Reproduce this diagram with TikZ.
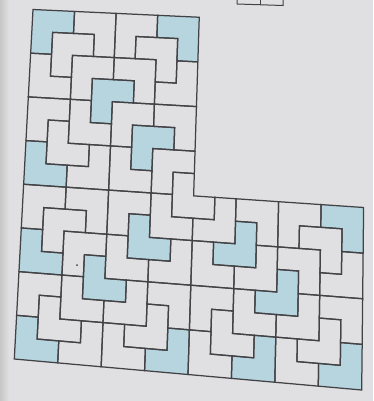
\documentclass[tikz,border=0pt]{standalone}
\usepackage{tikz}
\definecolor{paper}{RGB}{224,224,226}
\definecolor{ink}{RGB}{66,66,70}
\definecolor{pencil}{RGB}{182,213,222}
% bilinear map of the 16x16 small-cell grid onto the photo (pt = px)
\newcommand\G[2]{({33+20.781*(#1)-1.169*(#2)+0.0582*(#1)*(#2)},{-9.5-0.969*(#1)-21.844*(#2)-0.0605*(#1)*(#2)})}
% L-trominoes in a 2x2 block with top-left cell (#2,#3); name tells the missing cell
\newcommand\PBR[3]{\path[#1] \G{#2}{#3} -- \G{#2+2}{#3} -- \G{#2+2}{#3+1} -- \G{#2+1}{#3+1} -- \G{#2+1}{#3+2} -- \G{#2}{#3+2} -- cycle;}
\newcommand\PBL[3]{\path[#1] \G{#2}{#3} -- \G{#2+2}{#3} -- \G{#2+2}{#3+2} -- \G{#2+1}{#3+2} -- \G{#2+1}{#3+1} -- \G{#2}{#3+1} -- cycle;}
\newcommand\PTR[3]{\path[#1] \G{#2}{#3} -- \G{#2+1}{#3} -- \G{#2+1}{#3+1} -- \G{#2+2}{#3+1} -- \G{#2+2}{#3+2} -- \G{#2}{#3+2} -- cycle;}
\newcommand\PTL[3]{\path[#1] \G{#2+1}{#3} -- \G{#2+2}{#3} -- \G{#2+2}{#3+2} -- \G{#2}{#3+2} -- \G{#2}{#3+1} -- \G{#2+1}{#3+1} -- cycle;}
\begin{document}
\begin{tikzpicture}[x=1pt,y=1pt,
  pc/.style={draw=ink, line width=1.25pt, line join=miter},
  shd/.style={fill=pencil}]
\fill[paper] (0,0) rectangle (373,-401);
\useasboundingbox (0,0) rectangle (373,-401);
\shade[left color=black!22, right color=paper] (0,0) rectangle (9,-401);
% remnant of a drawing above
\draw[ink, line width=1pt] (237,0) -- (237,-4) -- (283,-5.5) -- (283,0);
\draw[ink, line width=1pt] (260,0) -- (260,-4.8);
% shaded pieces
\PBR{shd}{0}{0}
\PBL{shd}{6}{0}
\PBR{shd}{3}{3}
\PBR{shd}{5}{5}
\PTR{shd}{0}{6}
\PTR{shd}{0}{10}
\PTR{shd}{3}{11}
\PTR{shd}{5}{9}
\PTL{shd}{9}{9}
\PTL{shd}{11}{11}
\PBL{shd}{14}{8}
\PTL{shd}{10}{14}
\PTR{shd}{0}{14}
\PTL{shd}{6}{14}
\PTL{shd}{14}{14}
% outlines of all 64 pieces
\PBR{pc}{0}{0}
\PBR{pc}{1}{1}
\PTR{pc}{0}{2}
\PBL{pc}{2}{0}
\PBR{pc}{4}{0}
\PBL{pc}{5}{1}
\PBL{pc}{6}{0}
\PTL{pc}{6}{2}
\PBR{pc}{2}{2}
\PBL{pc}{4}{2}
\PBR{pc}{3}{3}
\PBR{pc}{5}{5}
\PTR{pc}{0}{6}
\PBR{pc}{0}{4}
\PTR{pc}{1}{5}
\PTR{pc}{2}{4}
\PBR{pc}{4}{4}
\PBL{pc}{6}{4}
\PTL{pc}{2}{6}
\PTR{pc}{4}{6}
\PBR{pc}{6}{6}
\PTR{pc}{0}{10}
\PTR{pc}{3}{11}
\PTR{pc}{5}{9}
\PBR{pc}{0}{8}
\PBL{pc}{2}{8}
\PBR{pc}{1}{9}
\PBR{pc}{4}{8}
\PTR{pc}{7}{7}
\PTL{pc}{9}{9}
\PTR{pc}{6}{8}
\PBL{pc}{13}{9}
\PTL{pc}{11}{11}
\PTL{pc}{13}{13}
\PTL{pc}{8}{8}
\PBL{pc}{10}{8}
\PBR{pc}{12}{8}
\PBL{pc}{14}{8}
\PBL{pc}{12}{10}
\PTL{pc}{14}{10}
\PTL{pc}{10}{10}
\PTR{pc}{8}{10}
\PTL{pc}{10}{14}
\PBR{pc}{8}{12}
\PTR{pc}{0}{14}
\PTL{pc}{6}{14}
\PBR{pc}{0}{12}
\PTR{pc}{1}{13}
\PTR{pc}{2}{12}
\PTL{pc}{2}{14}
\PTR{pc}{4}{14}
\PTR{pc}{10}{12}
\PTR{pc}{9}{13}
\PTR{pc}{8}{14}
\PTL{pc}{4}{12}
\PTL{pc}{5}{13}
\PBL{pc}{6}{12}
\PTL{pc}{6}{10}
\PTL{pc}{14}{14}
\PBL{pc}{14}{12}
\PTL{pc}{12}{12}
\PTR{pc}{12}{14}
\PBR{pc}{2}{10}
\PTR{pc}{4}{10}
% stray pencil dot
\fill[ink] (77,-265) circle (1pt);
\end{tikzpicture}
\end{document}
